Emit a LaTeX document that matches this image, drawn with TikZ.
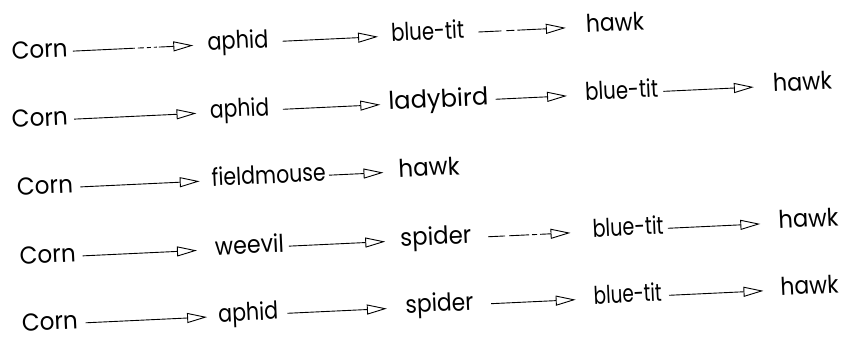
\documentclass[tikz,border=0pt]{standalone}
\usepackage{graphicx}
\usepackage{fontspec}
\setmainfont{Poppins}
\usetikzlibrary{arrows.meta}
\tikzset{
  organism/.style={font=\fontsize{24.5}{28}\selectfont, inner sep=0pt,
    text height=11pt, text depth=0pt, anchor=base west},
  feeds/.style={-{Triangle[open,length=20pt,width=10pt,line width=0.9pt]},
    line width=0.9pt},
}
% label squeezed or widened to a given width, so that the arrows start where they should
\newcommand\wbox[2]{\resizebox{#1pt}{\height}{#2}}

\begin{document}
\begin{tikzpicture}[x=1pt,y=-1pt]
\useasboundingbox (0,0) rectangle (845,342);
\begin{scope}[rotate=2.7, transform shape]
  % chain 1
  \node[organism] (c1)  at (9,60)    {\wbox{56}{Corn}};
  \node[organism] (a1)  at (205,60)  {\wbox{61}{aphid}};
  \node[organism] (b1)  at (389,60)  {\wbox{73}{blue-tit}};
  \node[organism] (h1)  at (584,60)  {\wbox{58}{hawk}};
  \draw[feeds, shorten <=5pt, shorten >=14pt,
        dash pattern=on 62pt off 3pt on 6pt off 3pt on 4pt off 3pt on 3pt off 2pt on 40pt]
        (c1.east) -- (a1.west);
  \draw[feeds, shorten <=14pt, shorten >=13pt] (a1.east) -- (b1.west);
  \draw[feeds, shorten <=14pt, shorten >=20pt,
        dash pattern=on 23pt off 5pt on 8pt off 3pt on 60pt]
        (b1.east) -- (h1.west);

  % chain 2
  \node[organism] (c2)  at (6,128)   {\wbox{56}{Corn}};
  \node[organism] (a2)  at (204.5,128) {\wbox{59}{aphid}};
  \node[organism] (l2)  at (383,128) {\wbox{100}{ladybird}};
  \node[organism] (b2)  at (580,128) {\wbox{73}{blue-tit}};
  \node[organism] (h2)  at (768,128) {\wbox{59}{hawk}};
  \draw[feeds, shorten <=6pt, shorten >=13.5pt] (c2.east) -- (a2.west);
  \draw[feeds, shorten <=13.5pt, shorten >=8pt] (a2.east) -- (l2.west);
  \draw[feeds, shorten <=7pt, shorten >=18pt] (l2.east) -- (b2.west);
  \draw[feeds, shorten <=5pt, shorten >=19pt] (b2.east) -- (h2.west);

  % chain 3
  \node[organism] (c3)  at (8,196)   {\wbox{56}{Corn}};
  \node[organism] (f3)  at (203,196) {\wbox{114}{fieldmouse}};
  \node[organism] (h3)  at (390,196) {\wbox{61}{hawk}};
  \draw[feeds, shorten <=7pt, shorten >=12pt] (c3.east) -- (f3.west);
  \draw[feeds, shorten <=3pt, shorten >=15pt] (f3.east) -- (h3.west);

  % chain 4
  \node[organism] (c4)  at (7.5,265) {\wbox{56}{Corn}};
  \node[organism] (w4)  at (203,265) {\wbox{69}{weevil}};
  \node[organism] (s4)  at (388.5,265) {\wbox{71}{spider}};
  \node[organism] (b4)  at (581,265) {\wbox{71}{blue-tit}};
  \node[organism] (h4)  at (767,265) {\wbox{60}{hawk}};
  \draw[feeds, shorten <=6.5pt, shorten >=18pt] (c4.east) -- (w4.west);
  \draw[feeds, shorten <=4.5pt, shorten >=15pt] (w4.east) -- (s4.west);
  \draw[feeds, shorten <=16.5pt, shorten >=22pt,
        dash pattern=on 17pt off 4pt on 20pt off 3pt on 5pt off 3pt on 40pt]
        (s4.east) -- (b4.west);
  \draw[feeds, shorten <=4pt, shorten >=18pt] (b4.east) -- (h4.west);

  % chain 5
  \node[organism] (c5)  at (6.5,332) {\wbox{56}{Corn}};
  \node[organism] (a5)  at (203,332) {\wbox{60}{aphid}};
  \node[organism] (s5)  at (390.5,332) {\wbox{68}{spider}};
  \node[organism] (b5)  at (579,332) {\wbox{68}{blue-tit}};
  \node[organism] (h5)  at (766,332) {\wbox{58}{hawk}};
  \draw[feeds, shorten <=7.5pt, shorten >=11pt] (c5.east) -- (a5.west);
  \draw[feeds, shorten <=9pt, shorten >=18.5pt] (a5.east) -- (s5.west);
  \draw[feeds, shorten <=17.5pt, shorten >=18pt] (s5.east) -- (b5.west);
  \draw[feeds, shorten <=7pt, shorten >=17pt] (b5.east) -- (h5.west);
\end{scope}
\end{tikzpicture}
\end{document}
